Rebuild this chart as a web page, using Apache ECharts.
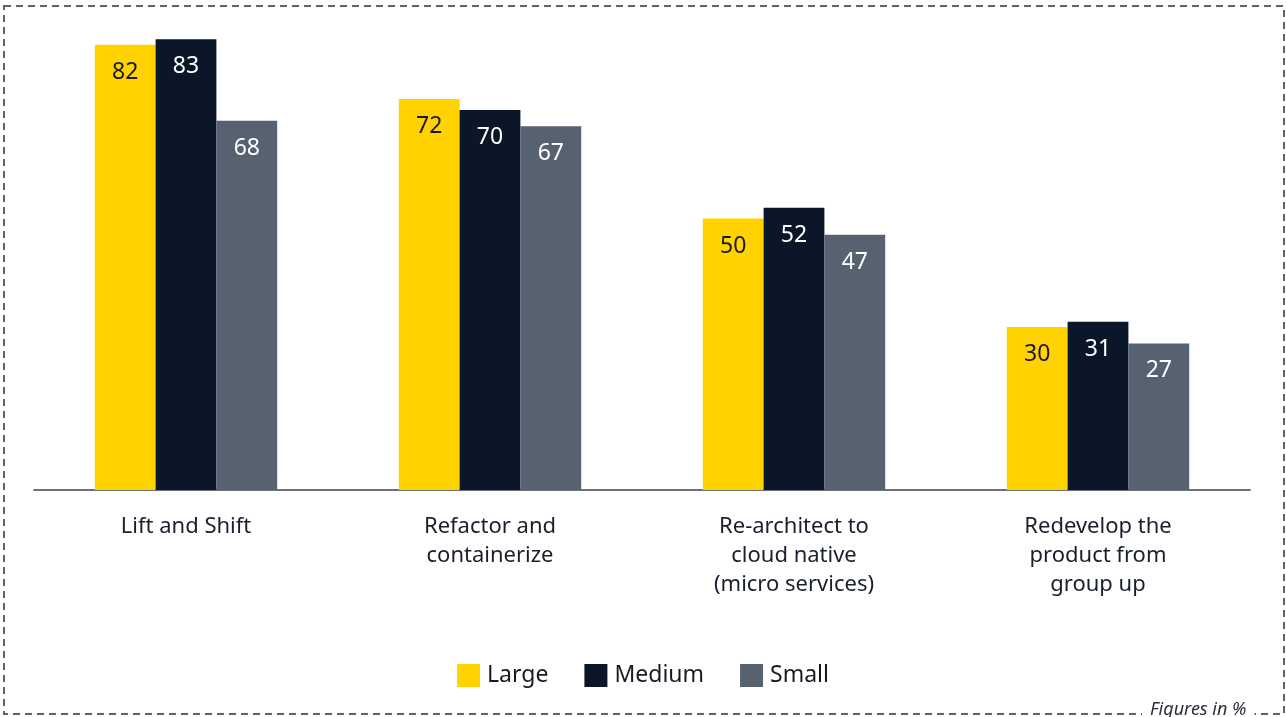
<!DOCTYPE html>
<html>
<head>
<meta charset="utf-8">
<script src="https://cdn.jsdelivr.net/npm/echarts@6/dist/echarts.min.js"></script>
<style>
  html, body { margin: 0; padding: 0; background: #ffffff; }
  #chart { width: 1286px; height: 717px; }
</style>
</head>
<body>
<div id="chart"></div>
<script>
// Migration approaches by company size (share of respondents, %)
const categories = [
  'Lift and Shift',
  'Refactor and\ncontainerize',
  'Re-architect to\ncloud native\n(micro services)',
  'Redevelop the\nproduct from\ngroup up'
];
const seriesNames = ['Large', 'Medium', 'Small'];
const largeValues = [82, 72, 50, 30];
const mediumValues = [83, 70, 52, 31];
const smallValues = [68, 67, 47, 27];

const colors = ['#FFD200', '#0B1628', '#566270'];
const labelColors = ['#1A1A24', '#FFFFFF', '#FFFFFF'];
const FONT = '"Noto Sans", Lato, sans-serif';

function barSeries(name, data, i) {
  return {
    name: name,
    type: 'bar',
    data: data,
    barGap: '0%',
    barCategoryGap: '40%',
    itemStyle: { color: colors[i] },
    label: {
      show: true,
      position: 'insideTop',
      distance: 16,
      color: labelColors[i],
      fontFamily: FONT,
      fontSize: 23
    }
  };
}

const chart = echarts.init(document.getElementById('chart'));
chart.setOption({
  animation: false,
  color: colors,
  grid: { left: 34, right: 36, top: 28.5, bottom: 227 },
  xAxis: {
    type: 'category',
    data: categories,
    axisLine: { show: true, lineStyle: { color: '#6B737D', width: 2 } },
    axisTick: { show: false },
    axisLabel: {
      color: '#1A1F2E',
      fontFamily: FONT,
      fontSize: 22,
      lineHeight: 29,
      margin: 22
    }
  },
  yAxis: {
    type: 'value',
    min: 0,
    max: 85,
    show: false,
    splitLine: { show: false }
  },
  legend: {
    data: seriesNames,
    bottom: 25,
    left: 'center',
    itemWidth: 23,
    itemHeight: 23,
    itemGap: 36,
    icon: 'rect',
    textStyle: { color: '#1A1A24', fontFamily: FONT, fontSize: 23, padding: [0, 0, 0, 2] }
  },
  graphic: [
    {
      type: 'rect',
      z: -1,
      shape: { x: 4, y: 6, width: 1280, height: 708 },
      style: { fill: 'none', stroke: '#5A6470', lineWidth: 2, lineDash: [7, 5] }
    },
    {
      type: 'text',
      left: 1142,
      top: 701,
      z: 10,
      style: {
        text: 'Figures in %',
        fill: '#2A2F3A',
        font: 'italic 18px ' + FONT,
        backgroundColor: '#ffffff',
        padding: [0, 8, 0, 8]
      }
    }
  ],
  series: [
    barSeries(seriesNames[0], largeValues, 0),
    barSeries(seriesNames[1], mediumValues, 1),
    barSeries(seriesNames[2], smallValues, 2)
  ]
});
</script>
</body>
</html>
